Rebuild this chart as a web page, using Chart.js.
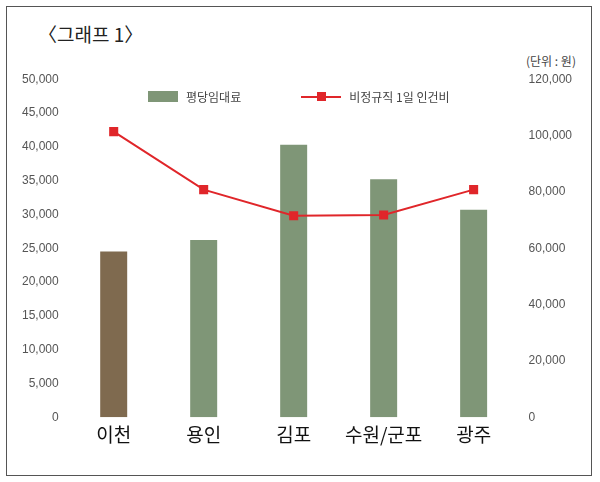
<!DOCTYPE html>
<html><head><meta charset="utf-8">
<script src="https://cdn.jsdelivr.net/npm/chart.js@4"></script>
<style>
body{margin:0;background:#fff;font-family:"Noto Sans CJK KR","Noto Sans",sans-serif;}
#frame{position:absolute;left:6px;top:6px;width:584px;height:468px;border:1px solid #555;}
#title{position:absolute;left:38px;top:20px;font-size:19px;color:#222;}
#unit{position:absolute;left:526px;top:52px;font-size:12px;color:#444;}
#legend{position:absolute;left:148px;top:88px;font-size:12px;color:#444;display:flex;align-items:center;}
.box{display:inline-block;width:30px;height:11px;background:#7f9677;margin-right:8px;}
.ln{display:inline-block;width:40px;height:2px;background:#e0262a;position:relative;margin:0 8px 0 60px;}
.ln:after{content:"";position:absolute;left:16px;top:-4px;width:9px;height:9px;background:#e0262a;}
#wrap{position:absolute;left:0;top:70px;width:600px;height:382px;}
</style></head><body>
<div id="frame"></div>
<div id="title">〈그래프 1〉</div>
<div id="unit">(단위 : 원)</div>
<div id="wrap"><canvas id="c"></canvas></div>
<div id="legend"><span class="box"></span>평당임대료<span class="ln"></span>비정규직 1일 인건비</div>
<script>
// categories and series
const regions = ['이천', '용인', '김포', '수원/군포', '광주'];
const rent = [24500, 26200, 40300, 35200, 30700];
const wage = [101400, 80800, 71500, 71800, 80800];
const barColors = ['#7f6a4f', '#7f9677', '#7f9677', '#7f9677', '#7f9677'];

const tickFont = {family: 'Liberation Sans', size: 12};

new Chart(document.getElementById('c'), {
    data: {
        labels: regions,
        datasets: [
            {type: 'line', label: '비정규직 1일 인건비', data: wage, yAxisID: 'y2',
             borderColor: '#e0262a', backgroundColor: '#e0262a', borderWidth: 2,
             pointStyle: 'rect', pointRadius: 5, order: 0},
            {type: 'bar', label: '평당임대료', data: rent, yAxisID: 'y',
             backgroundColor: barColors, barPercentage: 0.5, categoryPercentage: 0.6, order: 1}
        ]
    },
    options: {
        responsive: true, maintainAspectRatio: false, animation: false,
        layout: {padding: {left: 20, right: 26, top: 8, bottom: 0}},
        plugins: {legend: {display: false}, tooltip: {enabled: false}},
        scales: {
            x: {grid: {display: false, drawTicks: false}, border: {display: false},
                ticks: {color: '#111', font: {family: 'Noto Sans CJK KR', size: 19}, padding: 6}},
            y: {min: 0, max: 50000, grid: {display: false}, border: {display: false},
                ticks: {stepSize: 5000, color: '#555', font: tickFont, padding: 2,
                        callback: v => v.toLocaleString('en-US')}},
            y2: {position: 'right', min: 0, max: 120000, grid: {display: false}, border: {display: false},
                ticks: {stepSize: 20000, color: '#555', font: tickFont, padding: 2,
                        callback: v => v.toLocaleString('en-US')}}
        }
    }
});
</script>
</body></html>
